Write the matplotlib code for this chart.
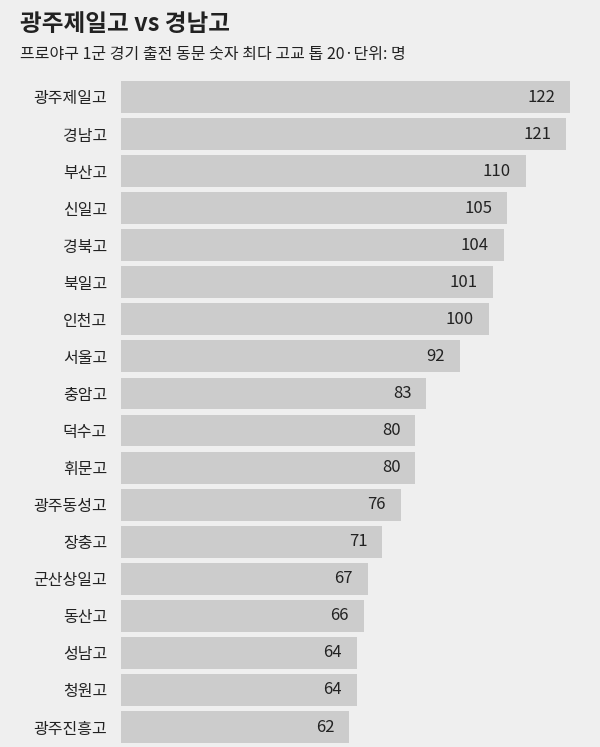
import matplotlib
matplotlib.use('Agg')
import matplotlib.pyplot as plt

plt.rcParams['font.family'] = ['Noto Sans CJK KR', 'DejaVu Sans']

# 학교별 1군 경기 출전 동문 숫자
schools = ['광주제일고', '경남고', '부산고', '신일고', '경북고', '북일고', '인천고', '서울고',
           '충암고', '덕수고', '휘문고', '광주동성고', '장충고', '군산상일고', '동산고',
           '성남고', '청원고', '광주진흥고']
counts = [122, 121, 110, 105, 104, 101, 100, 92, 83, 80, 80, 76, 71, 67, 66, 64, 64, 62]

title = '광주제일고 vs 경남고'
subtitle = '프로야구 1군 경기 출전 동문 숫자 최다 고교 톱 20·단위: 명'

bg = '#efefef'
bar_col = '#cccccc'
txt = '#222222'

W, H = 600, 747
fig = plt.figure(figsize=(W / 100, H / 100), dpi=100, facecolor=bg)

# axes in pixel terms: bars start at x=121, 122 ends at x=570
left_px, right_px = 121, 570
top_px = 78
ax = fig.add_axes([left_px / W, 0, (right_px - left_px) / W, (H - top_px) / H])
ax.set_facecolor(bg)

ypos = list(range(len(schools)))
ax.barh(ypos, counts, height=0.86, color=bar_col, linewidth=0)
ax.set_xlim(0, 122)
pitch = 37.06
ax.set_ylim((H - 97) / pitch, (top_px - 97) / pitch)

for y, v in zip(ypos, counts):
    ax.annotate(str(v), (v, y), xytext=(-15, 0), textcoords='offset pixels',
                ha='right', va='center', fontsize=12, fontweight='medium', color=txt)

ax.set_yticks(ypos)
ax.set_yticklabels(schools, fontsize=11.5, color=txt)
ax.tick_params(axis='y', length=0, pad=10)
ax.set_xticks([])
for s in ax.spines.values():
    s.set_visible(False)

fig.text(20 / W, 1 - 24 / H, title, fontsize=17, fontweight='bold', color=txt,
         ha='left', va='center')
fig.text(20 / W, 1 - 55 / H, subtitle, fontsize=11.5, color=txt, ha='left', va='center')

fig.savefig('out.png', dpi=100, facecolor=bg)
